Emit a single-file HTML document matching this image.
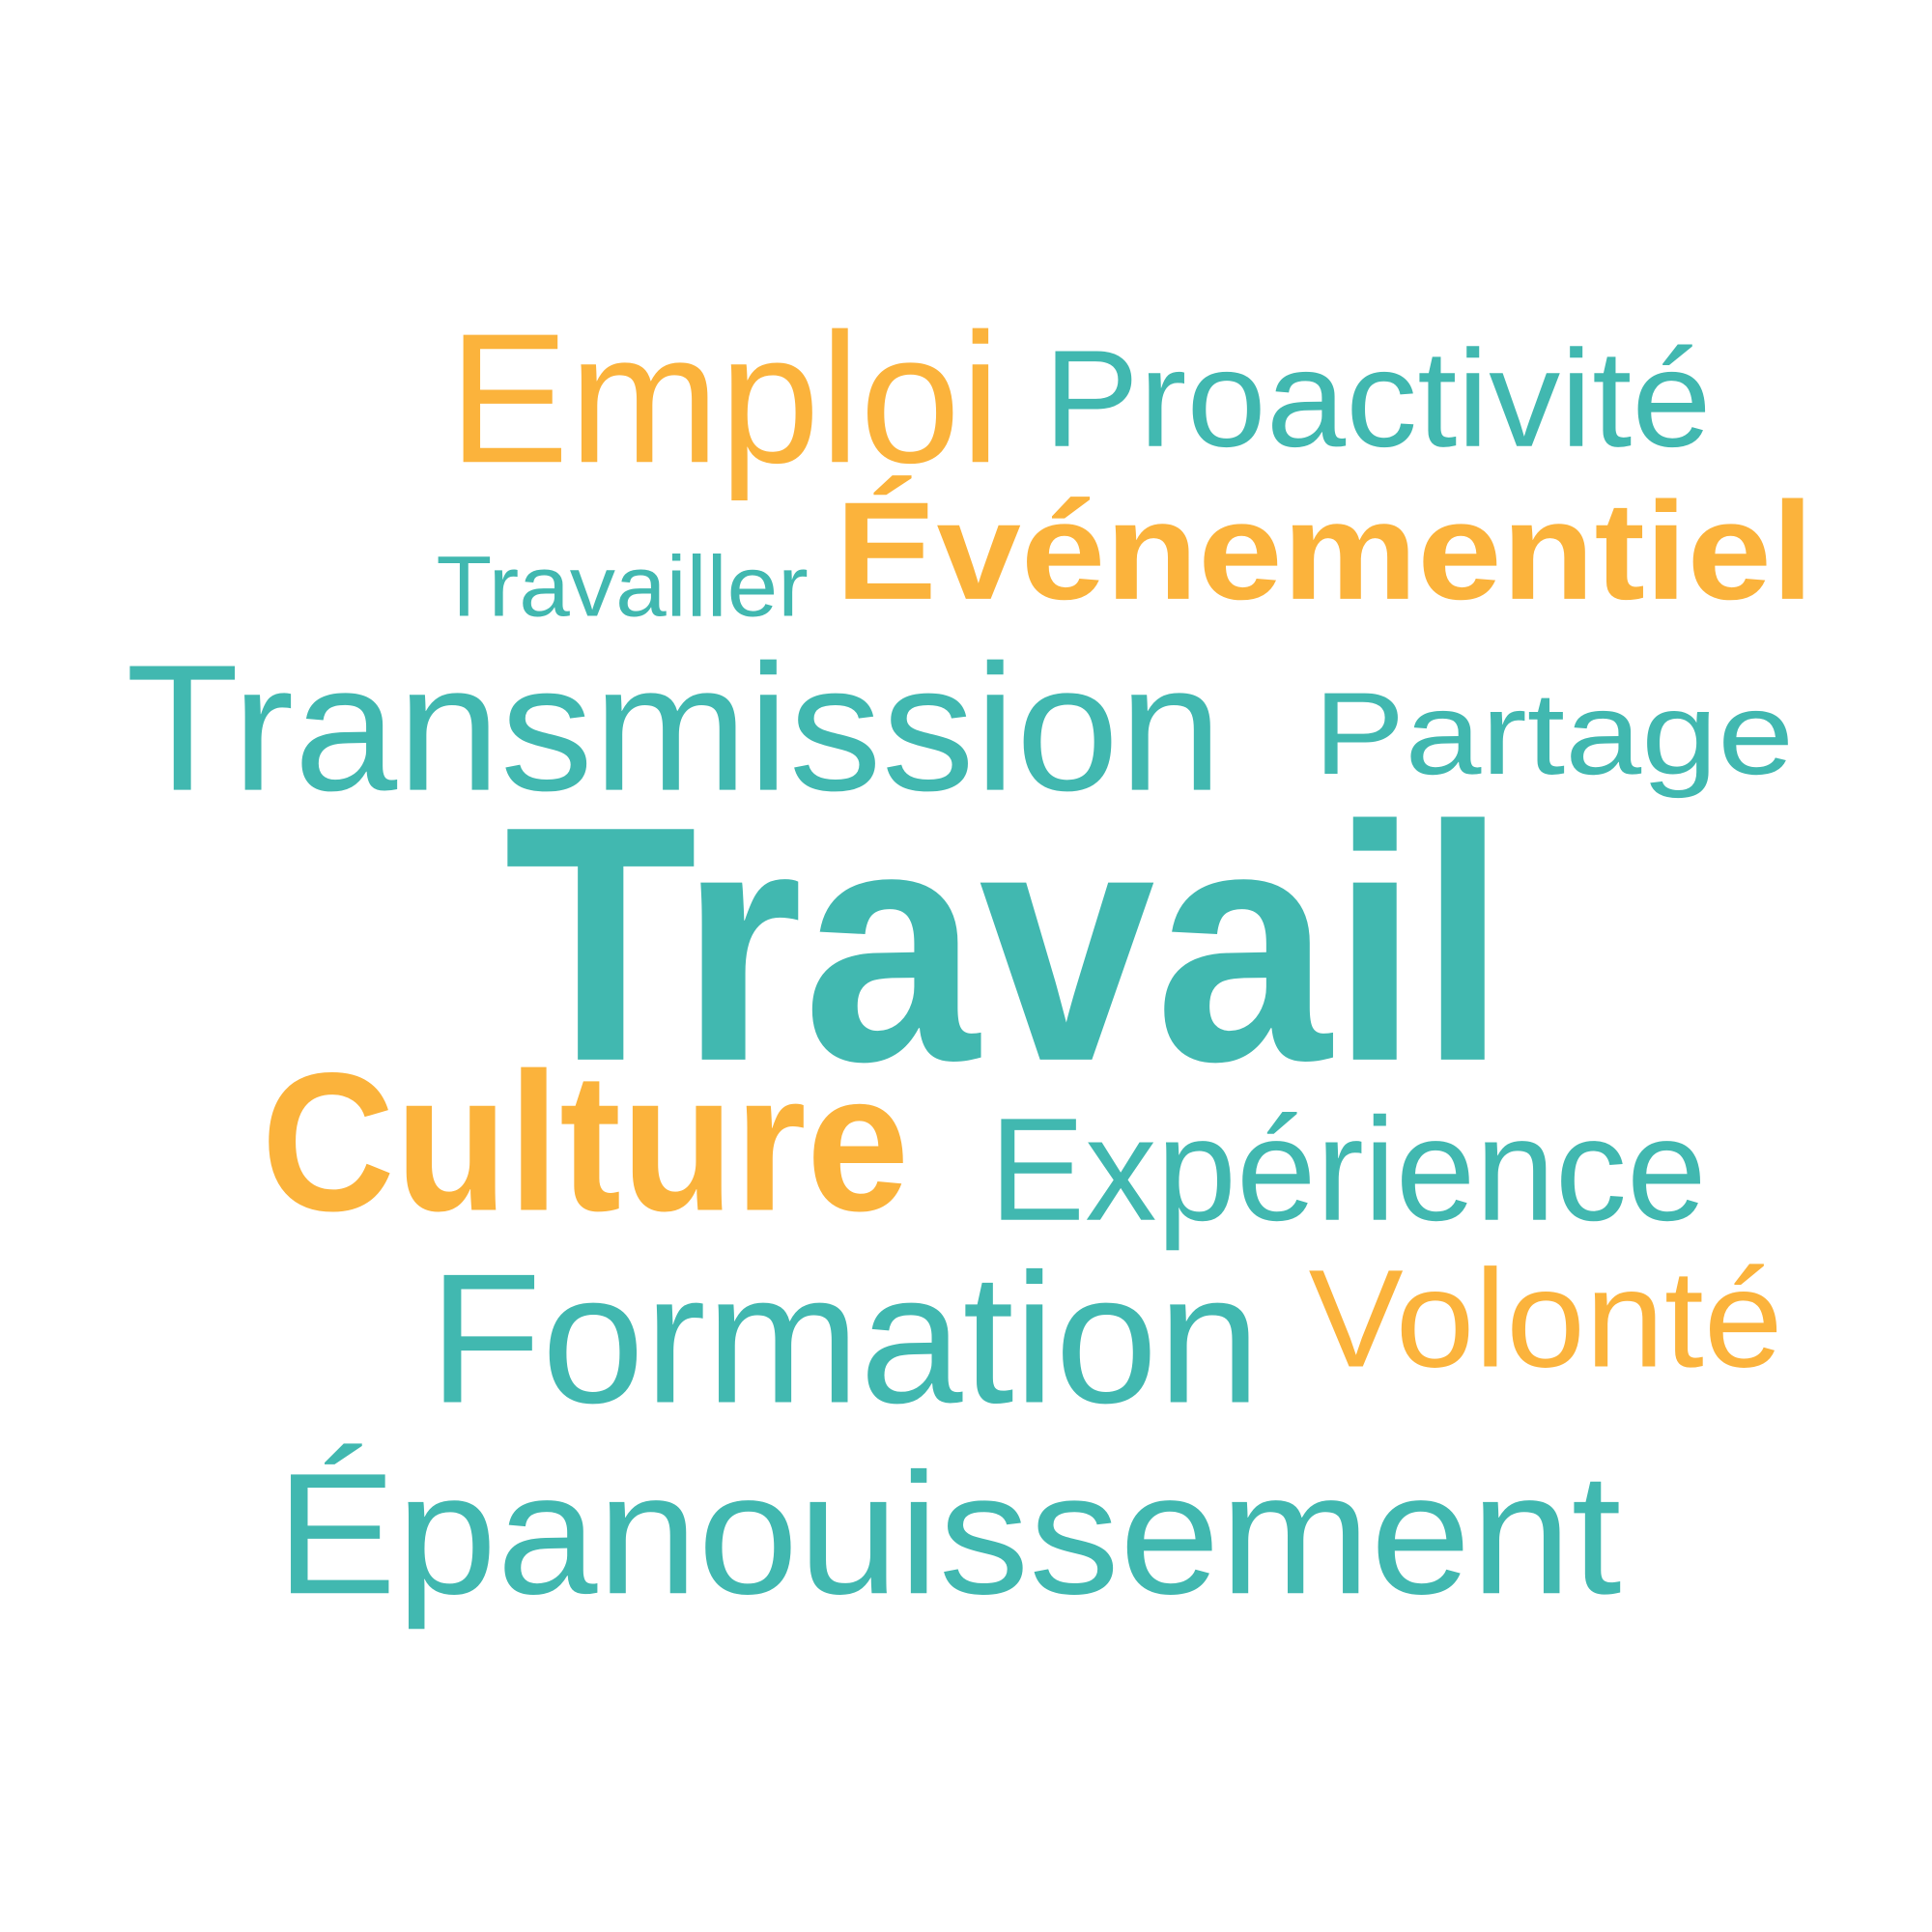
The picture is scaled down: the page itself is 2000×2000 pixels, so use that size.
<!DOCTYPE html>
<html><head><meta charset="utf-8"><style>html,body{margin:0;padding:0;background:#fff}svg{display:block}</style></head>
<body>
<svg width="2000" height="2000" viewBox="0 0 1568 1568" xmlns="http://www.w3.org/2000/svg" font-family="'Liberation Sans', sans-serif">
<rect width="1568" height="1568" fill="#fff"/>
<g fill="#fbb33c">
<text x="364" y="375" font-size="150" textLength="448" lengthAdjust="spacingAndGlyphs">Emploi</text>
<text x="678" y="486" font-size="113" font-weight="bold" textLength="794" lengthAdjust="spacingAndGlyphs">Événementiel</text>
<text x="212" y="982" font-size="160" font-weight="bold" textLength="526" lengthAdjust="spacingAndGlyphs">Culture</text>
<text x="1062" y="1109" font-size="113" textLength="385" lengthAdjust="spacingAndGlyphs">Volonté</text>
</g>
<g fill="#41b8b0">
<text x="847" y="362" font-size="112" textLength="542" lengthAdjust="spacingAndGlyphs">Proactivité</text>
<text x="354" y="500" font-size="70" textLength="302" lengthAdjust="spacingAndGlyphs">Travailler</text>
<text x="102" y="641" font-size="146" textLength="890" lengthAdjust="spacingAndGlyphs">Transmission</text>
<text x="1066" y="628" font-size="95" textLength="390" lengthAdjust="spacingAndGlyphs">Partage</text>
<text x="409" y="860" font-size="272" font-weight="bold" textLength="814" lengthAdjust="spacingAndGlyphs">Travail</text>
<text x="803" y="990" font-size="119" textLength="582" lengthAdjust="spacingAndGlyphs">Expérience</text>
<text x="348" y="1138" font-size="150" textLength="675" lengthAdjust="spacingAndGlyphs">Formation</text>
<text x="224" y="1293" font-size="140" textLength="1092" lengthAdjust="spacingAndGlyphs">Épanouissement</text>
</g>
</svg>
</body></html>
